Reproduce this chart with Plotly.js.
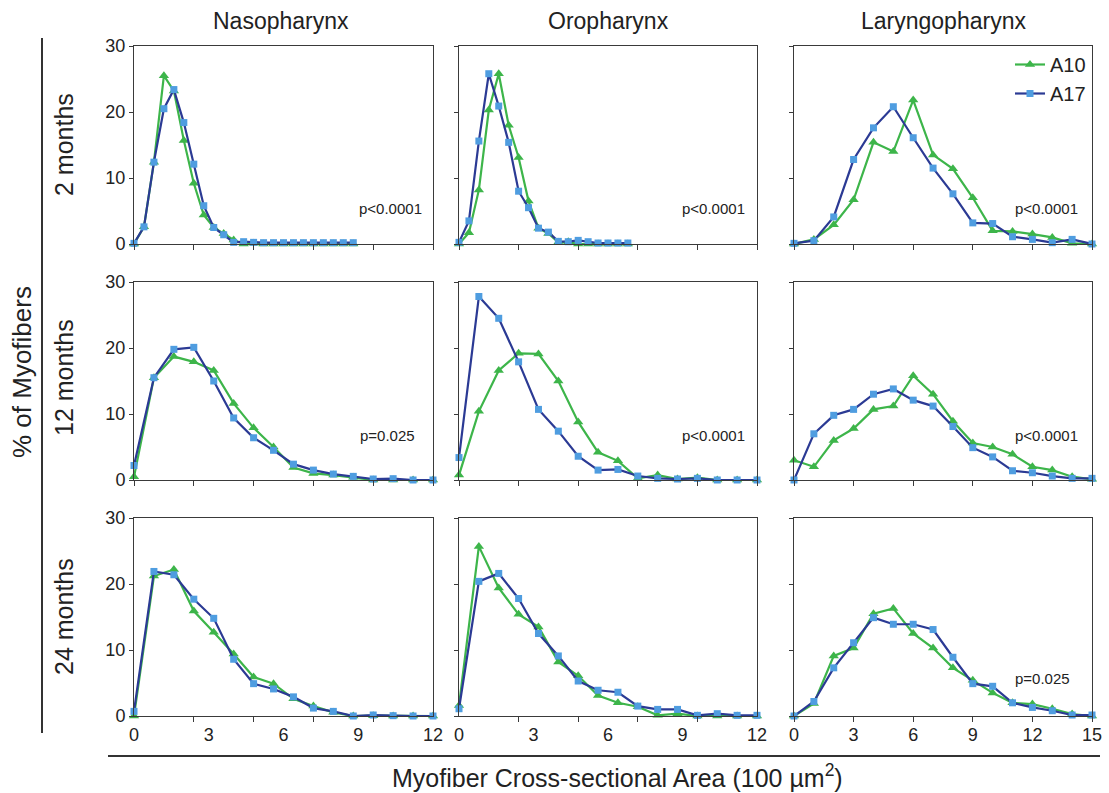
<!DOCTYPE html>
<html><head><meta charset="utf-8">
<script src="https://cdn.plot.ly/plotly-3.0.1.min.js"></script>
<style>html,body{margin:0;padding:0;background:#fff}#chart{width:1109px;height:793px}</style>
</head><body><div id="chart"></div>
<script>
// x positions (labelled scale)
const xRow1 = [0,0.4,0.8,1.2,1.6,2,2.4,2.8,3.2,3.6,4,4.4,4.8,5.2,5.6,6,6.4,6.8,7.2,7.6,8,8.4,8.8];
const xBins = [0,0.8,1.6,2.4,3.2,4,4.8,5.6,6.4,7.2,8,8.8,9.6,10.4,11.2,12];
const xLaryn = [0,1,2,3,4,5,6,7,8,9,10,11,12,13,14,15];

const columnTitles = ["Nasopharynx","Oropharynx","Laryngopharynx"];
const rowTitles = ["2 months","12 months","24 months"];
const seriesNames = ["A10","A17"];
const pValues = [["p&lt;0.0001","p&lt;0.0001","p&lt;0.0001"],["p=0.025","p&lt;0.0001","p&lt;0.0001"],["","","p=0.025"]];
const xTickLabels12 = ["0","3","6","9","12"];
const xTickLabels15 = ["0","3","6","9","12","15"];

// 2 months
const naso2_A10 = [0,2.6,12.4,25.5,23.2,15.7,9.2,4.4,2.5,1.6,0.6,0,0.1,0,0,0,0,0,0,0,0,0,0];
const naso2_A17 = [0.1,2.6,12.4,20.5,23.4,18.4,12.1,5.8,2.5,1.4,0.25,0.35,0.25,0.2,0.2,0.2,0.2,0.2,0.2,0.2,0.2,0.2,0.2];
const oro2_A10  = [0,1.7,8.2,20.3,25.8,18.0,13.1,6.5,2.4,1.6,0.25,0.35,0,0,0,0,0,0];
const oro2_A17  = [0.25,3.5,15.6,25.8,20.9,15.4,8.0,5.5,2.4,1.8,0.4,0.35,0.55,0.35,0.15,0.15,0.15,0.15];
const lar2_A10  = [0,0.7,2.9,6.7,15.4,14.0,21.8,13.5,11.4,7.0,2.0,1.9,1.5,1.0,0.1,0];
const lar2_A17  = [0.1,0.5,4.1,12.8,17.6,20.8,16.1,11.5,7.6,3.2,3.1,1.1,0.7,0.2,0.7,0];
// 12 months
const naso12_A10 = [0.5,15.5,18.7,17.9,16.6,11.6,7.9,5.0,1.9,1.0,0.75,0.4,0,0,0,0];
const naso12_A17 = [2.2,15.5,19.8,20.1,15.0,9.4,6.4,4.5,2.4,1.5,0.9,0.55,0.15,0.2,0,0];
const oro12_A10  = [0.75,10.4,16.6,19.2,19.1,15.0,8.8,4.2,2.9,0.25,0.75,0.15,0.35,0,0,0];
const oro12_A17  = [3.4,27.8,24.5,17.9,10.7,7.4,3.6,1.5,1.6,0.6,0.25,0.15,0.25,0,0,0];
const lar12_A10  = [3.0,2.0,6.0,7.8,10.7,11.2,15.8,13.0,8.9,5.6,5.0,3.9,2.0,1.5,0.5,0.1];
const lar12_A17  = [0,7.0,9.8,10.7,13.0,13.8,12.1,11.2,8.1,4.9,3.5,1.4,1.1,0.6,0.25,0.25];
// 24 months
const naso24_A10 = [0,21.2,22.2,15.9,12.7,9.4,5.9,4.9,2.6,1.5,0.55,0,0.05,0,0,0];
const naso24_A17 = [0.7,21.9,21.4,17.7,14.8,8.6,4.9,4.1,2.9,1.2,0.7,0,0.15,0.05,0,0];
const oro24_A10  = [1.6,25.7,19.4,15.4,13.5,8.2,6.1,3.1,2.0,1.4,0.1,0.35,0,0,0,0];
const oro24_A17  = [1.1,20.4,21.6,17.8,12.5,9.1,5.3,3.9,3.6,1.5,1.0,1.0,0.1,0.35,0.1,0.1];
const lar24_A10  = [0,1.9,9.1,10.3,15.5,16.3,12.5,10.3,7.3,5.4,3.5,2.0,1.8,1.1,0.3,0];
const lar24_A17  = [0,2.2,7.3,11.1,14.9,13.9,13.9,13.1,8.9,4.9,4.5,2.0,1.3,0.8,0.15,0.15];

const panels = [
  [[xRow1,naso2_A10,naso2_A17],[xRow1,oro2_A10,oro2_A17],[xLaryn,lar2_A10,lar2_A17]],
  [[xBins,naso12_A10,naso12_A17],[xBins,oro12_A10,oro12_A17],[xLaryn,lar12_A10,lar12_A17]],
  [[xBins,naso24_A10,naso24_A17],[xBins,oro24_A10,oro24_A17],[xLaryn,lar24_A10,lar24_A17]]
];

const W=1109, H=793;
const GREEN='#3db54a', NAVY='#2b3a94', LBLUE='#4f9de0', AX='#3a3a3a', TXT='#222';
const FONT='Liberation Sans, Arial, Helvetica, sans-serif';
const colX=[[134,433],[459,757],[794,1092]];
const rowY=[[46,244],[282,480],[518,716]];
const pPos=[[[391,208],[713,208],[1046,208]],[[387,436],[713,436],[1046,436]],[[0,0],[0,0],[1042,678]]];

const data=[]; const layout={
  width:W,height:H,margin:{l:0,r:0,t:0,b:0},paper_bgcolor:'#fff',plot_bgcolor:'#fff',
  font:{family:FONT,color:TXT,size:17},showlegend:true,
  legend:{x:1010/W,y:1-45/H,xanchor:'left',yanchor:'top',bgcolor:'rgba(0,0,0,0)',font:{size:20,color:TXT},itemwidth:30,tracegroupgap:0},
  annotations:[],shapes:[]
};

for(let r=0;r<3;r++){for(let c=0;c<3;c++){
  const k=r*3+c+1; const xs='x'+(k===1?'':k), ys='y'+(k===1?'':k);
  const [xv,a10,a17]=panels[r][c];
  data.push({x:xv.slice(0,a10.length),y:a10,xaxis:xs,yaxis:ys,mode:'lines+markers',name:seriesNames[0],legendgroup:'A10',showlegend:k===3,
    line:{color:GREEN,width:2.2},marker:{symbol:'triangle-up',size:9,color:GREEN},cliponaxis:false,hoverinfo:'skip'});
  data.push({x:xv.slice(0,a17.length),y:a17,xaxis:xs,yaxis:ys,mode:'lines+markers',name:seriesNames[1],legendgroup:'A17',showlegend:k===3,
    line:{color:NAVY,width:2.2},marker:{symbol:'square',size:7,color:LBLUE},cliponaxis:false,hoverinfo:'skip'});
  const xa={domain:[colX[c][0]/W,colX[c][1]/W],anchor:ys,showline:true,mirror:true,linecolor:AX,linewidth:1,
    showgrid:false,zeroline:false,ticks:'outside',ticklen:5,tickcolor:AX,tickfont:{size:18,color:TXT},fixedrange:true,ticklabelstandoff:-3};
  if(c<2){
    xa.range=[0,12];
    if(r<2){xa.tickmode='array';xa.tickvals=[0,2.4,4.8,7.2,9.6,12];xa.showticklabels=false;}
    else{xa.tickmode='array';xa.tickvals=[0,3,6,9,12];xa.ticktext=xTickLabels12;xa.tickcolor='rgba(0,0,0,0)';
      xa.minor={tickmode:'array',tickvals:[2.4,4.8,7.2,9.6],ticks:'outside',ticklen:5,tickcolor:AX,showgrid:false};}
  } else {
    xa.range=[0,15];xa.tickmode='array';xa.tickvals=[0,3,6,9,12,15];xa.ticktext=xTickLabels15;xa.showticklabels=(r===2);
  }
  const ya={domain:[1-rowY[r][1]/H,1-rowY[r][0]/H],anchor:xs,range:[0,30],showline:true,mirror:true,linecolor:AX,linewidth:1,
    showgrid:false,zeroline:false,ticks:'outside',ticklen:4,tickcolor:AX,tickmode:'array',tickvals:[0,10,20,30],
    showticklabels:c===0,tickfont:{size:18,color:TXT},fixedrange:true};
  layout['xaxis'+(k===1?'':k)]=xa; layout['yaxis'+(k===1?'':k)]=ya;
  if(pValues[r][c]){
    layout.annotations.push({xref:'paper',yref:'paper',x:pPos[r][c][0]/W,y:1-pPos[r][c][1]/H,text:pValues[r][c],showarrow:false,
      xanchor:'center',yanchor:'middle',font:{size:15,color:TXT}});
  }
}}
const colCenters=[281,608,943];
columnTitles.forEach((t,i)=>layout.annotations.push({xref:'paper',yref:'paper',x:colCenters[i]/W,y:1-21/H,text:t,showarrow:false,xanchor:'center',yanchor:'middle',font:{size:23,color:TXT}}));
const rowCenters=[145,378,617];
rowTitles.forEach((t,i)=>layout.annotations.push({xref:'paper',yref:'paper',x:64/W,y:1-rowCenters[i]/H,text:t,textangle:-90,showarrow:false,xanchor:'center',yanchor:'middle',font:{size:25,color:TXT}}));
layout.annotations.push({xref:'paper',yref:'paper',x:22/W,y:1-372/H,text:'% of Myofibers',textangle:-90,showarrow:false,xanchor:'center',yanchor:'middle',font:{size:26,color:TXT}});
layout.annotations.push({xref:'paper',yref:'paper',x:617/W,y:1-776/H,text:'Myofiber Cross-sectional Area (100 µm<sup>2</sup>)',showarrow:false,xanchor:'center',yanchor:'middle',font:{size:25,color:TXT}});
layout.shapes.push({type:'line',xref:'paper',yref:'paper',x0:42/W,x1:42/W,y0:1-38/H,y1:1-733/H,line:{color:'#333',width:2}});
layout.shapes.push({type:'line',xref:'paper',yref:'paper',x0:108/W,x1:1100/W,y0:1-756/H,y1:1-756/H,line:{color:'#333',width:2}});

Plotly.newPlot('chart',data,layout,{displayModeBar:false,staticPlot:true});
</script></body></html>
